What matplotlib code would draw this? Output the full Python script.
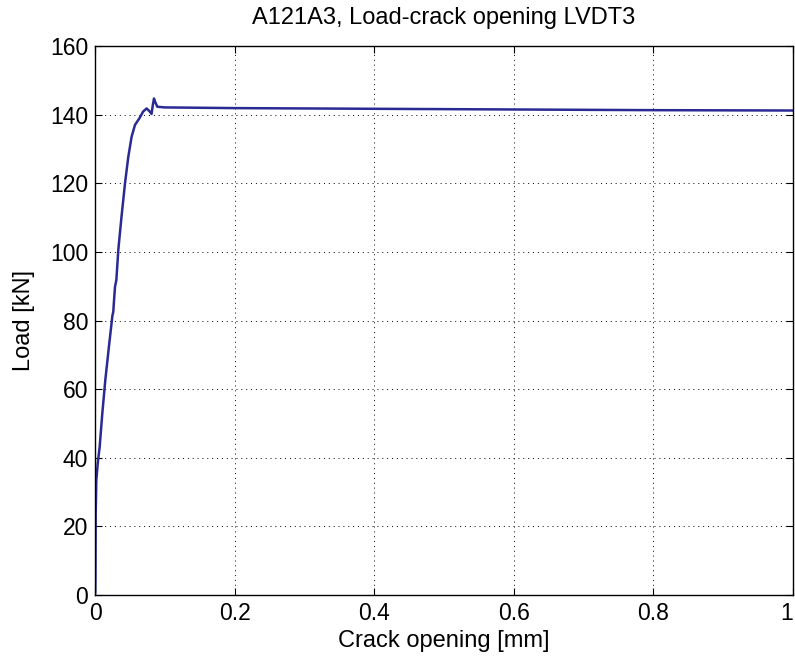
import matplotlib
matplotlib.use("Agg")
import matplotlib.pyplot as plt

crack_opening = [0.0, 0.0004, 0.0006, 0.0010, 0.0019, 0.0040, 0.0067, 0.0105, 0.0148, 0.0200,
                 0.0250, 0.0262, 0.0268, 0.0287, 0.0306, 0.0334, 0.0380, 0.0430, 0.0477,
                 0.0525, 0.0573, 0.0635, 0.0690, 0.0740, 0.0780, 0.0810, 0.0830, 0.0845,
                 0.0860, 0.0893, 0.1000, 0.2000, 0.4000, 0.6000, 0.8000, 1.0000]
load = [0.0, 1.0, 4.4, 23.9, 33.5, 38.5, 43.2, 53.0, 62.7, 72.5,
        81.5, 82.5, 84.5, 89.9, 91.8, 100.6, 110.3, 120.0, 127.7,
        133.6, 137.0, 138.9, 140.9, 141.8, 141.0, 140.2, 143.0, 144.7,
        143.8, 142.3, 142.1, 141.9, 141.7, 141.5, 141.3, 141.2]

x_ticks = [0, 0.2, 0.4, 0.6, 0.8, 1]
x_labels = ["0", "0.2", "0.4", "0.6", "0.8", "1"]
y_ticks = [0, 20, 40, 60, 80, 100, 120, 140, 160]

plt.rcParams['font.family'] = ['Liberation Sans', 'DejaVu Sans']
fs = 16.5
fl = 17

fig = plt.figure(figsize=(7.95, 6.66), dpi=100)
ax = fig.add_axes([95/795, 71/666, 698/795, 549/666])
ax.plot(crack_opening, load, color='#2a2a94', linewidth=1.8)
ax.set_xlim(0, 1)
ax.set_ylim(0, 160)
ax.set_xticks(x_ticks)
ax.set_xticklabels(x_labels)
ax.set_yticks(y_ticks)
ax.grid(True, color='black', linestyle=(0, (1, 4)), linewidth=0.7)
ax.tick_params(direction='in', length=5, width=0.8, colors='black', labelsize=fs,
               top=True, right=True, pad=5)
for s in ax.spines.values():
    s.set_linewidth(1.0)
    s.set_color('black')
ax.get_xticklabels()[-1].set_horizontalalignment('right')
ax.set_xlabel("Crack opening [mm]", fontsize=fl, labelpad=4)
ax.set_ylabel("Load [kN]", fontsize=fl, labelpad=11)
ax.set_title("A121A3, Load-crack opening LVDT3", fontsize=fl, pad=16)
fig.savefig("out.png", dpi=100, facecolor='white')
